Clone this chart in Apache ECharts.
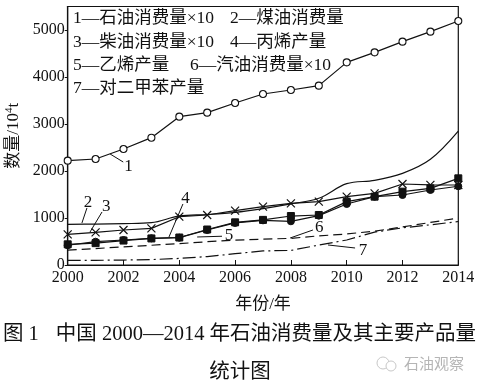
<!DOCTYPE html>
<html>
<head>
<meta charset="utf-8">
<script src="https://cdn.jsdelivr.net/npm/echarts@6/dist/echarts.min.js"></script>
<style>
html,body{margin:0;padding:0;background:#fff;}
#c{width:483px;height:388px;}
</style>
</head>
<body>
<div id="c"></div>
<script>
// ---- data ----
const years = [2000, 2001, 2002, 2003, 2004, 2005, 2006, 2007, 2008, 2009, 2010, 2011, 2012, 2013, 2014];
const oil       = [2220, 2255, 2468, 2709, 3156, 3241, 3447, 3638, 3723, 3816, 4312, 4525, 4752, 4965, 5191];
const kerosene  = [866, 870, 880, 900, 1045, 1075, 1120, 1200, 1300, 1420, 1730, 1800, 1950, 2250, 2850];
const diesel    = [652, 695, 745, 780, 1028, 1064, 1156, 1241, 1312, 1348, 1454, 1525, 1723, 1705, 1702];
const propylene = [440, 465, 520, 565, 585, 755, 908, 960, 1042, 1064, 1348, 1454, 1560, 1631, 1844];
const ethylene  = [420, 496, 532, 567, 582, 745, 895, 950, 930, 1050, 1298, 1454, 1489, 1596, 1675];
const gasoline  = [315, 350, 385, 420, 455, 495, 530, 550, 567, 620, 660, 720, 810, 905, 1000];
const paraxylene= [100, 100, 105, 115, 140, 180, 240, 300, 310, 425, 532, 700, 790, 855, 925];
const xTicks = [2000, 2002, 2004, 2006, 2008, 2010, 2012, 2014];
const yTicks = [0, 1000, 2000, 3000, 4000, 5000];

const legendRows = [
  ['1—石油消费量×10', '2—煤油消费量'],
  ['3—柴油消费量×10', '4—丙烯产量'],
  ['5—乙烯产量', '6—汽油消费量×10'],
  ['7—对二甲苯产量', '']
];
// annotation leaders in data units: [label, textPos, lineFrom, lineTo]
const annotations = [
  ['1', [2002.18, 2100], [2001.52, 2362], [2001.99, 2191]],
  ['2', [2000.73, 1330], [2000.69, 1213], [2000.51, 894]],
  ['3', [2001.38, 1245], [2001.23, 1128], [2000.80, 702]],
  ['4', [2004.22, 1410], [2004.13, 1298], [2003.63, 596]],
  ['5', [2005.78, 617], [2004.64, 596], [2005.53, 612]],
  ['6', [2009.02, 790], [2007.97, 574], [2008.79, 745]],
  ['7', [2010.58, 298], [2009.33, 426], [2010.30, 362]]
];

const SERIF = '"Liberation Serif", "Noto Sans CJK SC", serif';
const pairs = arr => years.map((y, i) => [y, arr[i]]);

const chart = echarts.init(document.getElementById('c'), null, {renderer: 'canvas'});
const black = '#111';
const lw = 1.2;

function lineSeries(name, arr, extra) {
  return Object.assign({
    name: name,
    type: 'line',
    data: pairs(arr),
    lineStyle: {color: black, width: lw},
    itemStyle: {color: black, borderColor: black},
    symbol: 'none',
    animation: false,
    z: 3
  }, extra || {});
}

const option = {
  backgroundColor: '#fff',
  animation: false,
  grid: {left: 67.7, right: 24.7, top: 6.5, bottom: 123, containLabel: false, outerBoundsMode: 'none',
    show: true, borderColor: black, borderWidth: 1.2, backgroundColor: 'transparent'},
  xAxis: {
    type: 'value', min: 2000, max: 2014, interval: 2,
    name: '年份/年', nameLocation: 'middle', nameGap: 31,
    nameTextStyle: {fontFamily: SERIF, fontSize: 17, color: black},
    axisLine: {lineStyle: {color: black, width: 1.2}},
    axisTick: {show: true, inside: true, length: 5, lineStyle: {color: black, width: 1}},
    axisLabel: {fontFamily: SERIF, fontSize: 16, color: black, margin: 5,
      formatter: v => xTicks.indexOf(v) >= 0 ? String(v) : ''},
    splitLine: {show: false}
  },
  yAxis: {
    type: 'value', min: 0, max: 5500, interval: 1000,
    name: '{a|数量/10}{s|4}{a|t}', nameLocation: 'middle', nameGap: 37, nameRotate: 90,
    nameTextStyle: {rich: {
      a: {fontFamily: SERIF, fontSize: 17, color: black},
      s: {fontFamily: SERIF, fontSize: 11, color: black, verticalAlign: 'bottom', padding: [0, 0, 8, 0]}
    }},
    axisLine: {show: true, lineStyle: {color: black, width: 1.2}},
    axisTick: {show: true, inside: false, length: 3, lineStyle: {color: black, width: 1}},
    axisLabel: {fontFamily: SERIF, fontSize: 16, color: black, margin: 3, showMaxLabel: false,
      formatter: v => yTicks.indexOf(v) >= 0 ? String(v) : ''},
    splitLine: {show: false}
  },
  series: [
    lineSeries('石油消费量×10', oil, {symbol: 'circle', symbolSize: 7, showAllSymbol: true,
      itemStyle: {color: '#fff', borderColor: black, borderWidth: 1.1}}),
    lineSeries('煤油消费量', kerosene, {smooth: 0.35}),
    lineSeries('柴油消费量×10', diesel, {symbol: 'path://M0,0L10,10M10,0L0,10', symbolSize: 8, showAllSymbol: true,
      itemStyle: {color: black, borderColor: black, borderWidth: 1.2}}),
    lineSeries('丙烯产量', propylene, {symbol: 'rect', symbolSize: 7, showAllSymbol: true}),
    lineSeries('乙烯产量', ethylene, {symbol: 'circle', symbolSize: 7, showAllSymbol: true}),
    lineSeries('汽油消费量×10', gasoline, {lineStyle: {color: black, width: lw, type: [9, 5]}}),
    lineSeries('对二甲苯产量', paraxylene, {lineStyle: {color: black, width: lw, type: [13, 4, 2, 4]}})
  ]
};
chart.setOption(option);

// ---- text graphics: legend, annotations, caption ----
const g = [];
const rowY = [18, 42, 65, 88];
const colX = [[73, 230], [73, 230], [73, 190], [73, 230]];
legendRows.forEach((row, r) => {
  row.forEach((t, c) => {
    if (!t) return;
    g.push({type: 'text', x: colX[r][c], y: rowY[r], z: 10,
      style: {text: t, font: '17.5px ' + SERIF, fill: black, textAlign: 'left', textVerticalAlign: 'middle'}});
  });
});
annotations.forEach(a => {
  const tp = chart.convertToPixel({gridIndex: 0}, a[1]);
  const p1 = chart.convertToPixel({gridIndex: 0}, a[2]);
  const p2 = chart.convertToPixel({gridIndex: 0}, a[3]);
  g.push({type: 'line', z: 10, shape: {x1: p1[0], y1: p1[1], x2: p2[0], y2: p2[1]},
    style: {stroke: black, lineWidth: 1}});
  g.push({type: 'text', z: 10, x: tp[0], y: tp[1],
    style: {text: a[0], font: '17px ' + SERIF, fill: black, textAlign: 'center', textVerticalAlign: 'middle'}});
});
g.push({type: 'text', x: 3, y: 335, style: {text: '图 1', font: '20.5px ' + SERIF, fill: black, textVerticalAlign: 'middle'}});
g.push({type: 'text', x: 476, y: 335, style: {text: '中国 2000—2014 年石油消费量及其主要产品量', font: '20.5px ' + SERIF, fill: black, textAlign: 'right', textVerticalAlign: 'middle'}});
g.push({type: 'text', x: 240, y: 373, style: {text: '统计图', font: '20.5px ' + SERIF, fill: black, textAlign: 'center', textVerticalAlign: 'middle'}});
g.push({type: 'text', x: 404, y: 363, style: {text: '石油观察', font: '15px "Noto Sans CJK SC", sans-serif', fill: '#b5b5b5', textVerticalAlign: 'middle'}});
g.push({type: 'circle', shape: {cx: 383, cy: 363, r: 6}, style: {fill: 'none', stroke: '#c8c8c8', lineWidth: 1}});
g.push({type: 'circle', shape: {cx: 391, cy: 366, r: 5}, style: {fill: '#fff', stroke: '#c8c8c8', lineWidth: 1}});
chart.setOption({graphic: g});
</script>
</body>
</html>
